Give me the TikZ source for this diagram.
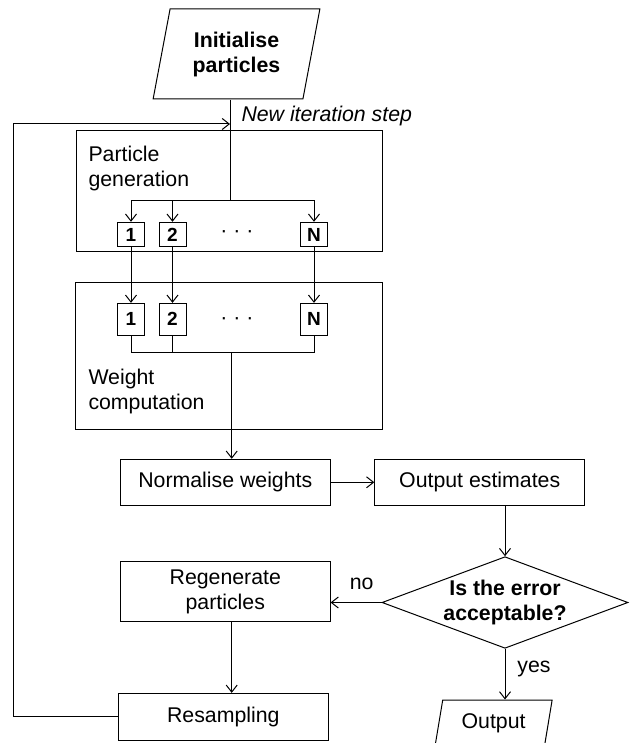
\documentclass[tikz,border=0pt]{standalone}
\usepackage{fontspec}
\setmainfont{Liberation Sans}
\usetikzlibrary{positioning, arrows.meta, shapes, calc}

\tikzset{
  txt/.style={font=\fontsize{21.3}{25}\selectfont},
  box/.style={draw, txt, align=center, inner sep=0pt},
  frame/.style={draw, inner sep=0pt},
  num/.style={draw, font=\fontsize{19}{22}\selectfont\bfseries, minimum width=27, inner sep=0pt},
  io/.style={draw, trapezium, trapezium left angle=76, trapezium right angle=104,
    trapezium stretches=true, txt, align=center, inner sep=0pt},
  decision/.style={draw, diamond, txt, font=\fontsize{21.3}{24.3}\selectfont\bfseries,
    align=center, inner sep=0pt, aspect=2.69},
  lbl/.style={txt, inner sep=0pt, align=left},
}

\begin{document}
\begin{tikzpicture}[x=1pt, y=-1pt, line width=1pt, >={Straight Barb[length=7pt,width=11pt]}]
\useasboundingbox (0,0) rectangle (630,743);
\clip (0,0) rectangle (630,743);
\node[io, font=\fontsize{21.3}{25}\selectfont\bfseries, minimum width=167, minimum height=90] (init) at (236.5,54) {Initialise\\particles};
\coordinate (join) at (230,124);
\coordinate (split) at (230,200.7);
\coordinate (back) at (13.3,124);
\node[lbl, anchor=base west, font=\fontsize{21.3}{25}\selectfont\itshape] (newstep) at (241,122) {New iteration step};
% particle generation
\node[frame, minimum width=306, minimum height=120.7] (gen) at (229,191.3) {};
\node[lbl, anchor=north west] (genlbl) at (88,145.4) {Particle\\generation};
\node[num, minimum height=24.4] (g1) at (131,234.5) {1};
\node[num, minimum height=24.4] (g2) at (172.5,234.5) {2};
\node[num, minimum height=24.4] (gN) at (314,234.5) {N};
\node[txt] (gdots) at (237,234.5) {· · ·};
% weight computation
\node[frame, minimum width=306.3, minimum height=146.3] (wgt) at (228.9,355.9) {};
\node[lbl, anchor=north west] (wgtlbl) at (88,368.7) {Weight\\computation};
\node[num, minimum height=31.7] (w1) at (131,319.2) {1};
\node[num, minimum height=31.7] (w2) at (172.5,319.2) {2};
\node[num, minimum height=31.7] (wN) at (314,319.2) {N};
\node[txt] (wdots) at (237,321) {· · ·};
\coordinate (wsum) at (231.7,352.7);
% main steps
\node[box, minimum width=209.5, minimum height=46] (norm) at (225.3,482.3) {Normalise weights};
\node[box, minimum width=209.8, minimum height=46] (est) at (479.7,482.3) {Output estimates};
\node[decision, minimum width=246, minimum height=91.6] (dec) at (505,602.5) {Is the error\\acceptable?};
\node[box, minimum width=209.5, minimum height=60] (regen) at (225.3,591.7) {Regenerate\\particles};
\node[box, minimum width=209.5, minimum height=46.7] (resamp) at (223.3,716.7) {Resampling};
\node[io, minimum width=118, minimum height=46] (out) at (493.6,723) {Output};
\node[lbl, anchor=base] (nolbl) at (361.6,589.5) {no};
\node[lbl, anchor=base] (yeslbl) at (534,672.5) {yes};
% connectors
\draw (init.south -| join) -- (split);
\draw[->] (resamp.west) -| (back) -- (join);
\draw[->] (split) -| (g1.north);
\draw[->] (split) -| (g2.north);
\draw[->] (split) -| (gN.north);
\draw[->] (g1.south) -- (w1.north);
\draw[->] (g2.south) -- (w2.north);
\draw[->] (gN.south) -- (wN.north);
\draw (w1.south) |- (wsum);
\draw (w2.south) |- (wsum);
\draw (wN.south) |- (wsum);
\draw[->] (wsum) -- (wsum |- norm.north);
\draw[->] (norm) -- (est);
\draw[->] (est.south -| dec.north) -- (dec.north);
\draw[->] (dec.west) -- (dec.west -| regen.east);
\draw[->] (dec.south) -- (dec.south |- out.north);
\draw[->] (regen.south -| wsum) -- (resamp.north -| wsum);
\end{tikzpicture}
\end{document}
